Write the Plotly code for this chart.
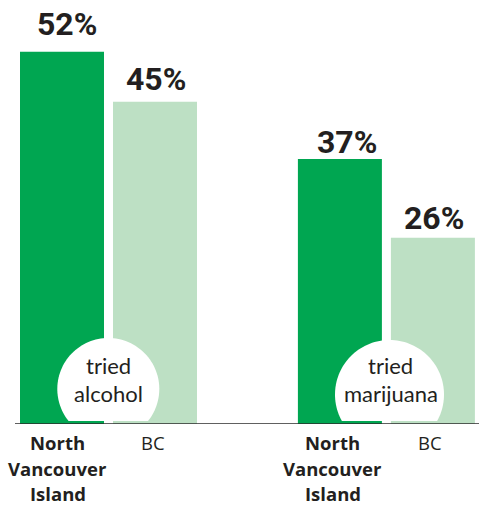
import math
import plotly.graph_objects as go

# Share of youth who have tried each substance (%)
groups = ["tried<br>alcohol", "tried<br>marijuana"]
regions = ["North Vancouver Island", "BC"]
nvi_values = [52, 37]
bc_values = [45, 26]

# ---- layout constants (pixels) ----
W, H = 479, 505
BASE_PX = 424          # baseline distance from top
PX_PER_UNIT = 7.16     # pixels per percentage point
Y_MAX = BASE_PX / PX_PER_UNIT

DARK = "#00a651"
LIGHT = "#bde0c4"
INK = "#231f20"

group_centers = [108.5, 386.4]
bar_offset = 46.5
bar_width = 84


def py(px_from_top):
    """Convert a pixel row (from top) into y-axis units."""
    return (BASE_PX - px_from_top) / PX_PER_UNIT


def paper_y(px_from_top):
    """Convert a pixel row (from top) into paper units (0 = baseline)."""
    return (BASE_PX - px_from_top) / BASE_PX


fig = go.Figure()

x_nvi = [c - bar_offset for c in group_centers]
x_bc = [c + bar_offset for c in group_centers]

fig.add_trace(go.Bar(x=x_nvi, y=nvi_values, width=bar_width,
                     marker=dict(color=DARK, line=dict(width=0)),
                     name=regions[0], hoverinfo="skip"))
fig.add_trace(go.Bar(x=x_bc, y=bc_values, width=bar_width,
                     marker=dict(color=LIGHT, line=dict(width=0)),
                     name=regions[1], hoverinfo="skip"))

annotations = []

# value labels above bars
pct_font = dict(family="Roboto, sans-serif", size=32, weight=700, color=INK)
label_shift = {  # (xshift, yshift) per bar
    (0, 0): (5, 28), (0, 1): (1, 22.5),
    (1, 0): (7, 17.5), (1, 1): (1, 19.5),
}
for gi in range(len(groups)):
    for si, (xs, vals) in enumerate([(x_nvi, nvi_values), (x_bc, bc_values)]):
        dx, dy = label_shift[(gi, si)]
        annotations.append(dict(
            x=xs[gi], y=vals[gi], text=f"{vals[gi]}%",
            showarrow=False, xanchor="center", yanchor="middle",
            xshift=dx, yshift=dy, font=pct_font))

# white discs with the group names, flattened where they meet the baseline
shapes = []
disc_geom = [(108.3, 389.0, 51.0), (389.5, 394.5, 54.5)]
cut_px = 421.0
for (cx, cy, r) in disc_geom:
    lim = math.asin(min(1.0, (cut_px - cy) / r))
    a0 = lim                       # right-hand cut (screen angle, y down)
    a1 = math.pi - lim             # left-hand cut
    span = 2 * math.pi - (a1 - a0)  # long way round, over the top
    n = 90
    pts = []
    for k in range(n + 1):
        a = a0 - span * k / n
        pts.append((cx + r * math.cos(a), py(cy + r * math.sin(a))))
    path = "M " + " L ".join(f"{x:.2f},{y:.4f}" for x, y in pts) + " Z"
    shapes.append(dict(type="path", path=path, xref="x", yref="y",
                       fillcolor="white", line=dict(width=0), layer="above"))

text_size = 22
text_font = dict(family="Lato, Open Sans, sans-serif", size=text_size, color=INK)
for gi, g in enumerate(groups):
    cx = disc_geom[gi][0]
    for li, line in enumerate(g.split("<br>")):
        base = [374.0, 401.7][li]
        annotations.append(dict(
            x=cx + (1 if gi == 1 else 0), y=py(base - 0.387 * text_size),
            text=line, showarrow=False, xanchor="center", yanchor="middle",
            font=text_font))

# baseline
shapes.append(dict(type="line", xref="x", yref="y", x0=15, x1=W, y0=0, y1=0,
                   line=dict(color="#2b2b2b", width=1.3), layer="above"))

# category labels under the bars
cat_size = 18.5
cat_font = dict(family="Open Sans, Lato, sans-serif", size=cat_size, color=INK)
line_baselines = [449.3, 475.0, 500.0]
cat_x = {0: [57.5, 332.5], 1: [153.3, 430.0]}
for si, reg in enumerate(regions):
    words = ["North", "Vancouver", "Island"] if si == 0 else [reg]
    for gi in range(len(groups)):
        for li, w in enumerate(words):
            txt = f"<b>{w}</b>" if si == 0 else w
            annotations.append(dict(
                x=cat_x[si][gi], xref="x",
                y=paper_y(line_baselines[li] - 0.36 * cat_size), yref="paper",
                text=txt, showarrow=False, xanchor="center", yanchor="middle",
                font=cat_font))

fig.update_layout(
    width=W, height=H,
    margin=dict(l=0, r=0, t=0, b=H - BASE_PX, pad=0),
    paper_bgcolor="white", plot_bgcolor="white",
    showlegend=False, barmode="overlay",
    xaxis=dict(range=[0, W], visible=False, fixedrange=True),
    yaxis=dict(range=[0, Y_MAX], visible=False, fixedrange=True),
    shapes=shapes, annotations=annotations,
)

fig.write_html("out.html")
